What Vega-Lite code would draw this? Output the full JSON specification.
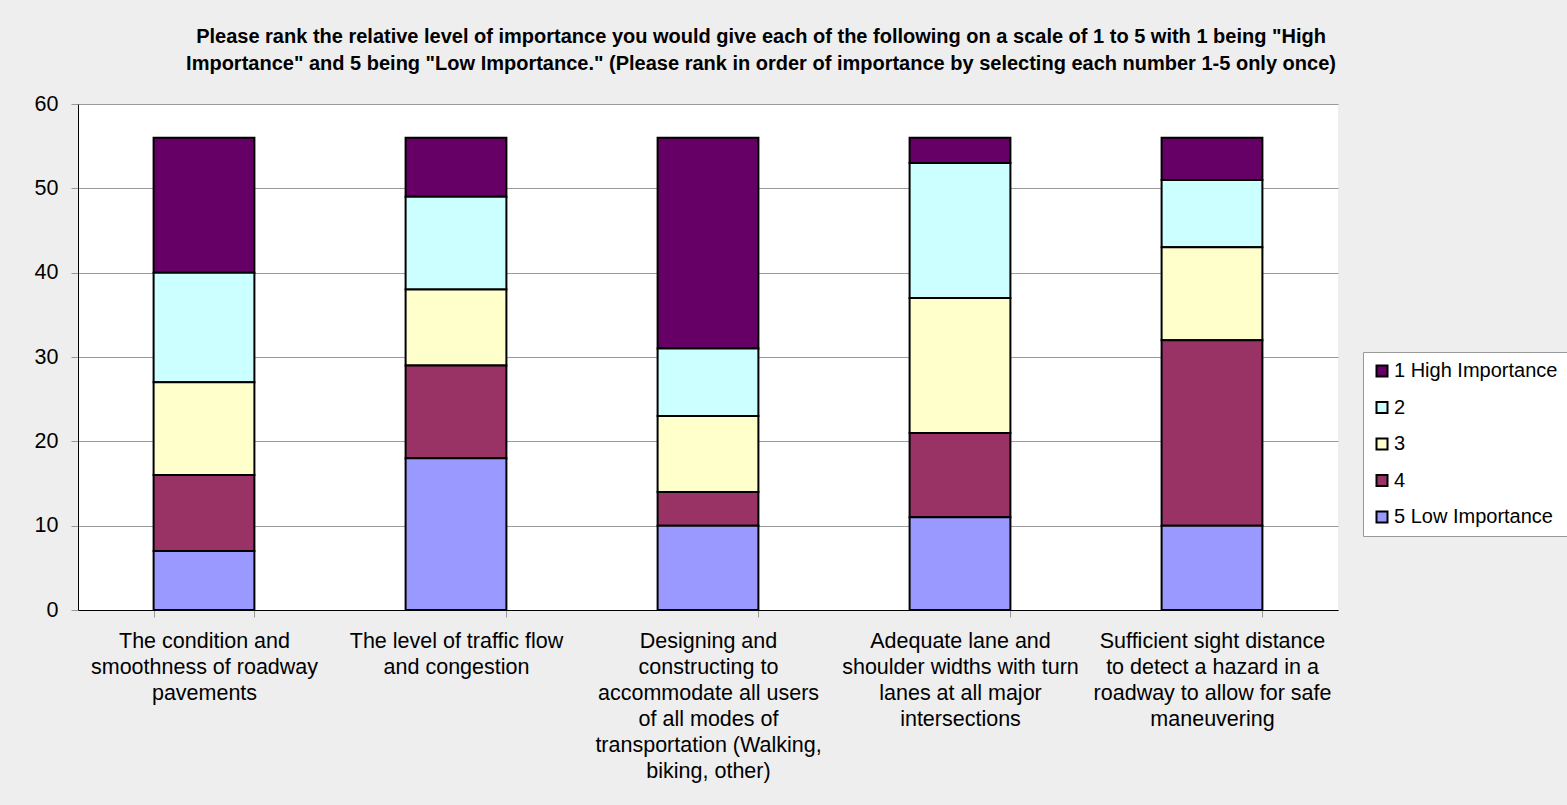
{
  "$schema": "https://vega.github.io/schema/vega-lite/v6.json",
  "autosize": {"type": "none"},
  "width": 1260,
  "height": 506,
  "padding": {"left": 78, "top": 104, "right": 229, "bottom": 195},
  "background": "#EEEEEE",
  "title": {
    "text": ["Please rank the relative level of importance you would give each of the following on a scale of 1 to 5 with 1 being \"High", "Importance\" and 5 being \"Low Importance.\" (Please rank in order of importance by selecting each number 1-5 only once)"],
    "font": "Liberation Sans",
    "fontSize": 20,
    "fontWeight": "bold",
    "color": "#000000",
    "anchor": "middle",
    "frame": "group",
    "dx": 53,
    "lineHeight": 27,
    "offset": 19
  },
  "config": {
    "view": {"fill": "#FFFFFF", "stroke": null},
    "font": "Liberation Sans"
  },
  "data": {
    "values": [
      {"category": "The condition and|smoothness of roadway|pavements", "series": "1 High Importance", "value": 16},
      {"category": "The condition and|smoothness of roadway|pavements", "series": "2", "value": 13},
      {"category": "The condition and|smoothness of roadway|pavements", "series": "3", "value": 11},
      {"category": "The condition and|smoothness of roadway|pavements", "series": "4", "value": 9},
      {"category": "The condition and|smoothness of roadway|pavements", "series": "5 Low Importance", "value": 7},
      {"category": "The level of traffic flow|and congestion", "series": "1 High Importance", "value": 7},
      {"category": "The level of traffic flow|and congestion", "series": "2", "value": 11},
      {"category": "The level of traffic flow|and congestion", "series": "3", "value": 9},
      {"category": "The level of traffic flow|and congestion", "series": "4", "value": 11},
      {"category": "The level of traffic flow|and congestion", "series": "5 Low Importance", "value": 18},
      {"category": "Designing and|constructing to|accommodate all users|of all modes of|transportation (Walking,|biking, other)", "series": "1 High Importance", "value": 25},
      {"category": "Designing and|constructing to|accommodate all users|of all modes of|transportation (Walking,|biking, other)", "series": "2", "value": 8},
      {"category": "Designing and|constructing to|accommodate all users|of all modes of|transportation (Walking,|biking, other)", "series": "3", "value": 9},
      {"category": "Designing and|constructing to|accommodate all users|of all modes of|transportation (Walking,|biking, other)", "series": "4", "value": 4},
      {"category": "Designing and|constructing to|accommodate all users|of all modes of|transportation (Walking,|biking, other)", "series": "5 Low Importance", "value": 10},
      {"category": "Adequate lane and|shoulder widths with turn|lanes at all major|intersections", "series": "1 High Importance", "value": 3},
      {"category": "Adequate lane and|shoulder widths with turn|lanes at all major|intersections", "series": "2", "value": 16},
      {"category": "Adequate lane and|shoulder widths with turn|lanes at all major|intersections", "series": "3", "value": 16},
      {"category": "Adequate lane and|shoulder widths with turn|lanes at all major|intersections", "series": "4", "value": 10},
      {"category": "Adequate lane and|shoulder widths with turn|lanes at all major|intersections", "series": "5 Low Importance", "value": 11},
      {"category": "Sufficient sight distance|to detect a hazard in a|roadway to allow for safe|maneuvering", "series": "1 High Importance", "value": 5},
      {"category": "Sufficient sight distance|to detect a hazard in a|roadway to allow for safe|maneuvering", "series": "2", "value": 8},
      {"category": "Sufficient sight distance|to detect a hazard in a|roadway to allow for safe|maneuvering", "series": "3", "value": 11},
      {"category": "Sufficient sight distance|to detect a hazard in a|roadway to allow for safe|maneuvering", "series": "4", "value": 22},
      {"category": "Sufficient sight distance|to detect a hazard in a|roadway to allow for safe|maneuvering", "series": "5 Low Importance", "value": 10}
    ]
  },
  "mark": {"type": "bar", "stroke": "#000000", "strokeWidth": 2},
  "encoding": {
    "x": {
      "field": "category",
      "type": "nominal",
      "sort": null,
      "scale": {"paddingInner": 0.6, "paddingOuter": 0.3},
      "axis": {
        "title": null,
        "labelAngle": 0,
        "labelExpr": "isValid(datum.value) ? split(datum.value, '|') : ''",
        "labelFont": "Liberation Sans",
        "labelFontSize": 21.5,
        "labelColor": "#000000",
        "labelLineHeight": 26,
        "labelPadding": 13,
        "labelLimit": 400,
        "domainColor": "#000000",
        "domainWidth": 1,
        "tickBand": "extent",
        "tickColor": "#999999",
        "tickSize": 7,
        "grid": false
      }
    },
    "y": {
      "field": "value",
      "type": "quantitative",
      "stack": "zero",
      "scale": {"domain": [0, 60], "nice": false},
      "axis": {
        "title": null,
        "values": [0, 10, 20, 30, 40, 50, 60],
        "labelFont": "Liberation Sans",
        "labelFontSize": 21.5,
        "labelColor": "#000000",
        "labelPadding": 13,
        "domainColor": "#000000",
        "domainWidth": 1,
        "tickColor": "#999999",
        "tickSize": 7,
        "gridColor": "#999999",
        "gridWidth": 1,
        "gridOpacity": 1
      }
    },
    "color": {
      "field": "series",
      "type": "nominal",
      "scale": {
        "domain": ["1 High Importance", "2", "3", "4", "5 Low Importance"],
        "range": ["#660066", "#CCFFFF", "#FFFFCC", "#993366", "#9999FF"]
      },
      "legend": {
        "title": null,
        "orient": "none",
        "legendX": 1285,
        "legendY": 248,
        "symbolType": "square",
        "symbolSize": 121,
        "symbolStrokeColor": "#000000",
        "symbolStrokeWidth": 2,
        "labelFont": "Liberation Sans",
        "labelFontSize": 20,
        "labelColor": "#000000",
        "labelOffset": 2,
        "rowPadding": 16.5,
        "padding": 9,
        "fillColor": "#FFFFFF",
        "strokeColor": "#999999",
        "labelLimit": 300
      }
    },
    "order": {"field": "series", "sort": "descending"}
  }
}
